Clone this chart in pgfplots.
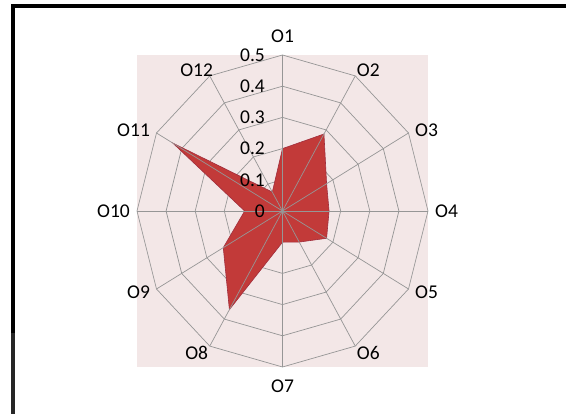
\documentclass[border=0pt]{standalone}
\usepackage{pgfplots}
\pgfplotsset{compat=1.18}
\usepackage{fontspec}
\setmainfont{Carlito}
\definecolor{pinkbg}{RGB}{243,231,231}
\definecolor{polyfill}{RGB}{194,58,57}
\definecolor{polyedge}{RGB}{160,45,60}
\definecolor{gridgray}{RGB}{150,150,150}
\begin{document}
\begin{tikzpicture}[x=1pt,y=1pt]
\path[use as bounding box] (0,0) rectangle (566,414);
\fill[white] (0,0) rectangle (566,414);
% screenshot frame
\fill[black] (11,406) rectangle (566,410);
\fill[black] (11,81) rectangle (15,410);
\fill[black!85] (11,0) rectangle (15,81);
\begin{axis}[
  at={(137pt,47pt)}, anchor=south west,
  scale only axis, width=291pt, height=312pt,
  xmin=-0.5, xmax=0.5, ymin=-0.5, ymax=0.5,
  axis lines=none, ticks=none, clip=false,
  font=\fontsize{19.5}{21}\selectfont,
]
\fill[pinkbg] (rel axis cs:0,0) rectangle (rel axis cs:1,1);
% rings
\foreach \r in {0.1,0.2,0.3,0.4,0.5}{
  \edef\temp{\noexpand\addplot[gridgray, line width=0.7pt, data cs=polar, forget plot] coordinates {
    (90,\r) (60,\r) (30,\r) (0,\r) (-30,\r) (-60,\r) (-90,\r) (-120,\r) (-150,\r) (180,\r) (150,\r) (120,\r) (90,\r)};}
  \temp
}
% data polygon
\addplot[fill=polyfill, draw=polyedge, line width=0.6pt, data cs=polar] coordinates {
  (90,0.20) (60,0.285) (30,0.175) (0,0.16) (-30,0.175) (-60,0.115)
  (-90,0.10) (-120,0.365) (-150,0.235) (180,0.13) (150,0.435) (120,0.07)
} -- cycle;
% spokes
\foreach \a in {90,60,30,0,-30,-60,-90,-120,-150,180,150,120}{
  \edef\temp{\noexpand\addplot[gridgray, line width=0.7pt, data cs=polar, forget plot] coordinates {(\a,0) (\a,0.5)};}
  \temp
}
% tick labels
\foreach \v in {0,0.1,0.2,0.3,0.4,0.5}{
  \edef\temp{\noexpand\node[anchor=east, inner sep=0pt] at (axis cs:-0.060,\v) {\v};}
  \temp
}
% category labels
\node[anchor=center] at (axis cs:0,0.559) {O1};
\node[anchor=center] at (axis cs:0.295,0.450) {O2};
\node[anchor=west, inner sep=0pt] at (axis cs:0.455,0.26) {O3};
\node[anchor=west, inner sep=0pt] at (axis cs:0.524,0) {O4};
\node[anchor=west, inner sep=0pt] at (axis cs:0.455,-0.262) {O5};
\node[anchor=center] at (axis cs:0.295,-0.456) {O6};
\node[anchor=center] at (axis cs:0,-0.563) {O7};
\node[anchor=center] at (axis cs:-0.295,-0.456) {O8};
\node[anchor=east, inner sep=0pt] at (axis cs:-0.455,-0.262) {O9};
\node[anchor=east, inner sep=0pt] at (axis cs:-0.524,0) {O10};
\node[anchor=east, inner sep=0pt] at (axis cs:-0.455,0.26) {O11};
\node[anchor=center] at (axis cs:-0.295,0.450) {O12};
\end{axis}
\end{tikzpicture}
\end{document}
